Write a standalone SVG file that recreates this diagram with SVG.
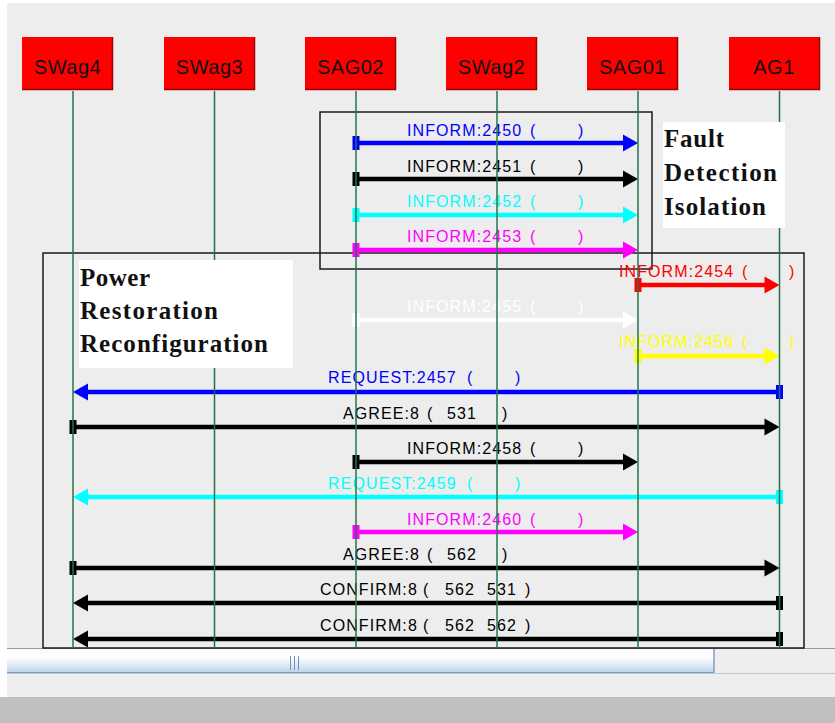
<svg xmlns="http://www.w3.org/2000/svg" width="835" height="723" viewBox="0 0 835 723">
  <style>
    .lane { fill: #ff0000; }
    .lane-edge { stroke: #9c0000; stroke-width: 1.5; fill: none; }
    .lane-txt { font-family: "Liberation Sans", Arial, sans-serif; font-size: 20px; letter-spacing: 0.5px; text-anchor: middle; fill: #111; }
    .life { stroke: #22744a; stroke-width: 1.5; }
    .frame { fill: none; stroke: #1a1a1a; stroke-width: 1.5; }
    .note { fill: #ffffff; }
    .note-txt { font-family: "Liberation Serif", "Times New Roman", serif; font-weight: bold; font-size: 25px; fill: #111; }
    .msg { fill: none; stroke-width: 4.5; }
    .m { font-family: "Liberation Sans", Arial, sans-serif; font-size: 16px; letter-spacing: 1.1px; }
    .c-blue { stroke: #0000ff; fill: #0000ff; }
    .c-black { stroke: #000000; fill: #000000; }
    .c-cyan { stroke: #00ffff; fill: #00ffff; }
    .c-mag { stroke: #ff00ff; fill: #ff00ff; }
    .c-red { stroke: #ff0000; fill: #ff0000; }
    .c-white { stroke: #ffffff; fill: #ffffff; }
    .c-yel { stroke: #ffff00; fill: #ffff00; }
    text.c-blue, text.c-black, text.c-cyan, text.c-mag, text.c-red, text.c-white, text.c-yel { stroke: none; }
  </style>
  <defs>
    <linearGradient id="thumb" x1="0" y1="0" x2="0" y2="1">
      <stop offset="0" stop-color="#f6f9fd"/>
      <stop offset="0.35" stop-color="#ffffff"/>
      <stop offset="1" stop-color="#bcd1e8"/>
    </linearGradient>
    <!-- arrowheads: tip sits 8px beyond the line end -->
    <marker id="h-blue" viewBox="-8 -9 17 18" refX="0" refY="0" markerWidth="17" markerHeight="18" orient="auto" markerUnits="userSpaceOnUse"><path d="M-7,-8.5 L8,0 L-7,8.5 z" fill="#0000ff"/></marker>
    <marker id="h-black" viewBox="-8 -9 17 18" refX="0" refY="0" markerWidth="17" markerHeight="18" orient="auto" markerUnits="userSpaceOnUse"><path d="M-7,-8.5 L8,0 L-7,8.5 z" fill="#000000"/></marker>
    <marker id="h-cyan" viewBox="-8 -9 17 18" refX="0" refY="0" markerWidth="17" markerHeight="18" orient="auto" markerUnits="userSpaceOnUse"><path d="M-7,-8.5 L8,0 L-7,8.5 z" fill="#00ffff"/></marker>
    <marker id="h-mag" viewBox="-8 -9 17 18" refX="0" refY="0" markerWidth="17" markerHeight="18" orient="auto" markerUnits="userSpaceOnUse"><path d="M-7,-8.5 L8,0 L-7,8.5 z" fill="#ff00ff"/></marker>
    <marker id="h-red" viewBox="-8 -9 17 18" refX="0" refY="0" markerWidth="17" markerHeight="18" orient="auto" markerUnits="userSpaceOnUse"><path d="M-7,-8.5 L8,0 L-7,8.5 z" fill="#ff0000"/></marker>
    <marker id="h-white" viewBox="-8 -9 17 18" refX="0" refY="0" markerWidth="17" markerHeight="18" orient="auto" markerUnits="userSpaceOnUse"><path d="M-7,-8.5 L8,0 L-7,8.5 z" fill="#ffffff"/></marker>
    <marker id="h-yel" viewBox="-8 -9 17 18" refX="0" refY="0" markerWidth="17" markerHeight="18" orient="auto" markerUnits="userSpaceOnUse"><path d="M-7,-8.5 L8,0 L-7,8.5 z" fill="#ffff00"/></marker>
    <!-- sender tabs -->
    <marker id="s-blue" viewBox="-4 -7 8 14" refX="0" refY="0" markerWidth="8" markerHeight="14" orient="auto" markerUnits="userSpaceOnUse"><rect x="-3.5" y="-7" width="7" height="14" fill="#0000ff"/></marker>
    <marker id="s-black" viewBox="-4 -7 8 14" refX="0" refY="0" markerWidth="8" markerHeight="14" orient="auto" markerUnits="userSpaceOnUse"><rect x="-3.5" y="-7" width="7" height="14" fill="#000000"/></marker>
    <marker id="s-cyan" viewBox="-4 -7 8 14" refX="0" refY="0" markerWidth="8" markerHeight="14" orient="auto" markerUnits="userSpaceOnUse"><rect x="-3.5" y="-7" width="7" height="14" fill="#00ffff"/></marker>
    <marker id="s-mag" viewBox="-4 -7 8 14" refX="0" refY="0" markerWidth="8" markerHeight="14" orient="auto" markerUnits="userSpaceOnUse"><rect x="-3.5" y="-7" width="7" height="14" fill="#ff00ff"/></marker>
    <marker id="s-red" viewBox="-4 -7 8 14" refX="0" refY="0" markerWidth="8" markerHeight="14" orient="auto" markerUnits="userSpaceOnUse"><rect x="-3.5" y="-7" width="7" height="14" fill="#ff0000"/></marker>
    <marker id="s-white" viewBox="-4 -7 8 14" refX="0" refY="0" markerWidth="8" markerHeight="14" orient="auto" markerUnits="userSpaceOnUse"><rect x="-3.5" y="-7" width="7" height="14" fill="#ffffff"/></marker>
    <marker id="s-yel" viewBox="-4 -7 8 14" refX="0" refY="0" markerWidth="8" markerHeight="14" orient="auto" markerUnits="userSpaceOnUse"><rect x="-3.5" y="-7" width="7" height="14" fill="#ffff00"/></marker>
  </defs>

  <!-- window background -->
  <rect x="0" y="0" width="835" height="723" fill="#ffffff"/>
  <rect x="7" y="3" width="828" height="645" fill="#ededed"/>

  <!-- horizontal scrollbar and status strip -->
  <g id="scrollbar">
    <rect x="7" y="648" width="828" height="26" fill="#eeeeee"/>
    <line x1="7" y1="648.5" x2="835" y2="648.5" stroke="#9a9a9a" stroke-width="1"/>
    <line x1="7" y1="673.5" x2="835" y2="673.5" stroke="#b9c7d8" stroke-width="1"/>
    <rect x="7" y="649" width="707" height="24" fill="url(#thumb)"/>
    <line x1="7" y1="672.5" x2="714" y2="672.5" stroke="#7f9cc0" stroke-width="1"/>
    <line x1="714" y1="649" x2="714" y2="673" stroke="#7f9cc0" stroke-width="1.5"/>
    <g stroke="#6f8fc4" stroke-width="1">
      <line x1="290.5" y1="656" x2="290.5" y2="670"/>
      <line x1="294.5" y1="656" x2="294.5" y2="670"/>
      <line x1="298.5" y1="656" x2="298.5" y2="670"/>
    </g>
    <rect x="7" y="674" width="828" height="23" fill="#eeeeee"/>
    <rect x="0" y="697" width="835" height="26" fill="#c0c0c0"/>
  </g>

  <!-- scenario frames -->
  <g id="frame-fdi">
    <rect class="frame" x="320" y="112" width="332" height="157"/>
  </g>
  <g id="frame-prr">
    <rect class="frame" x="43" y="253" width="761" height="395"/>
  </g>

  <!-- messages -->
  <g id="messages">
    <line class="msg c-blue" x1="356" y1="143" x2="630" y2="143" marker-start="url(#s-blue)" marker-end="url(#h-blue)"/>
    <text class="m c-blue" y="136"><tspan x="407">INFORM:2450</tspan><tspan x="530">(</tspan><tspan x="578">)</tspan></text>

    <line class="msg c-black" x1="356" y1="179" x2="630" y2="179" marker-start="url(#s-black)" marker-end="url(#h-black)"/>
    <text class="m c-black" y="172"><tspan x="407">INFORM:2451</tspan><tspan x="530">(</tspan><tspan x="578">)</tspan></text>

    <line class="msg c-cyan" x1="356" y1="215" x2="630" y2="215" marker-start="url(#s-cyan)" marker-end="url(#h-cyan)"/>
    <text class="m c-cyan" y="207"><tspan x="407">INFORM:2452</tspan><tspan x="530">(</tspan><tspan x="578">)</tspan></text>

    <line class="msg c-mag" x1="356" y1="250" x2="630" y2="250" marker-start="url(#s-mag)" marker-end="url(#h-mag)"/>
    <text class="m c-mag" y="242"><tspan x="407">INFORM:2453</tspan><tspan x="530">(</tspan><tspan x="578">)</tspan></text>

    <line class="msg c-red" x1="638" y1="285" x2="771.5" y2="285" marker-start="url(#s-red)" marker-end="url(#h-red)"/>
    <text class="m c-red" y="277"><tspan x="619">INFORM:2454</tspan><tspan x="742">(</tspan><tspan x="789">)</tspan></text>

    <line class="msg c-white" x1="356" y1="320" x2="630" y2="320" marker-start="url(#s-white)" marker-end="url(#h-white)"/>
    <text class="m c-white" y="312"><tspan x="407">INFORM:2455</tspan><tspan x="530">(</tspan><tspan x="578">)</tspan></text>

    <line class="msg c-yel" x1="638" y1="356" x2="771.5" y2="356" marker-start="url(#s-yel)" marker-end="url(#h-yel)"/>
    <text class="m c-yel" y="347"><tspan x="619">INFORM:2456</tspan><tspan x="742">(</tspan><tspan x="789">)</tspan></text>

    <line class="msg c-blue" x1="779.5" y1="392" x2="81" y2="392" marker-start="url(#s-blue)" marker-end="url(#h-blue)"/>
    <text class="m c-blue" y="383"><tspan x="328">REQUEST:2457</tspan><tspan x="467">(</tspan><tspan x="515">)</tspan></text>

    <line class="msg c-black" x1="73" y1="427" x2="771.5" y2="427" marker-start="url(#s-black)" marker-end="url(#h-black)"/>
    <text class="m c-black" y="419"><tspan x="343">AGREE:8</tspan><tspan x="427">(</tspan><tspan x="447">531</tspan><tspan x="502">)</tspan></text>

    <line class="msg c-black" x1="356" y1="462" x2="630" y2="462" marker-start="url(#s-black)" marker-end="url(#h-black)"/>
    <text class="m c-black" y="454"><tspan x="407">INFORM:2458</tspan><tspan x="530">(</tspan><tspan x="578">)</tspan></text>

    <line class="msg c-cyan" x1="779.5" y1="497" x2="81" y2="497" marker-start="url(#s-cyan)" marker-end="url(#h-cyan)"/>
    <text class="m c-cyan" y="489"><tspan x="328">REQUEST:2459</tspan><tspan x="467">(</tspan><tspan x="515">)</tspan></text>

    <line class="msg c-mag" x1="356" y1="532" x2="630" y2="532" marker-start="url(#s-mag)" marker-end="url(#h-mag)"/>
    <text class="m c-mag" y="525"><tspan x="407">INFORM:2460</tspan><tspan x="530">(</tspan><tspan x="578">)</tspan></text>

    <line class="msg c-black" x1="73" y1="568" x2="771.5" y2="568" marker-start="url(#s-black)" marker-end="url(#h-black)"/>
    <text class="m c-black" y="560"><tspan x="343">AGREE:8</tspan><tspan x="427">(</tspan><tspan x="447">562</tspan><tspan x="502">)</tspan></text>

    <line class="msg c-black" x1="779.5" y1="603" x2="81" y2="603" marker-start="url(#s-black)" marker-end="url(#h-black)"/>
    <text class="m c-black" y="595"><tspan x="320">CONFIRM:8</tspan><tspan x="423">(</tspan><tspan x="445">562</tspan><tspan x="487">531</tspan><tspan x="525">)</tspan></text>

    <line class="msg c-black" x1="779.5" y1="639" x2="81" y2="639" marker-start="url(#s-black)" marker-end="url(#h-black)"/>
    <text class="m c-black" y="631"><tspan x="320">CONFIRM:8</tspan><tspan x="423">(</tspan><tspan x="445">562</tspan><tspan x="487">562</tspan><tspan x="525">)</tspan></text>
  </g>

  <!-- agents: head box plus lifeline -->
  <g id="SWag4">
    <line class="life" x1="73" y1="91" x2="73" y2="648"/>
    <rect class="lane" x="22" y="37" width="91" height="53"/>
    <polyline class="lane-edge" points="22,89.5 112.5,89.5 112.5,37"/>
    <text class="lane-txt" x="67.5" y="74">SWag4</text>
  </g>
  <g id="SWag3">
    <line class="life" x1="214.5" y1="91" x2="214.5" y2="648"/>
    <rect class="lane" x="164" y="37" width="91" height="53"/>
    <polyline class="lane-edge" points="164,89.5 254.5,89.5 254.5,37"/>
    <text class="lane-txt" x="209.5" y="74">SWag3</text>
  </g>
  <g id="SAG02">
    <line class="life" x1="356" y1="91" x2="356" y2="648"/>
    <rect class="lane" x="305" y="37" width="91" height="53"/>
    <polyline class="lane-edge" points="305,89.5 395.5,89.5 395.5,37"/>
    <text class="lane-txt" x="350.5" y="74">SAG02</text>
  </g>
  <g id="SWag2">
    <line class="life" x1="497" y1="91" x2="497" y2="648"/>
    <rect class="lane" x="446" y="37" width="91" height="53"/>
    <polyline class="lane-edge" points="446,89.5 536.5,89.5 536.5,37"/>
    <text class="lane-txt" x="491.5" y="74">SWag2</text>
  </g>
  <g id="SAG01">
    <line class="life" x1="638" y1="91" x2="638" y2="648"/>
    <rect class="lane" x="587" y="37" width="91" height="53"/>
    <polyline class="lane-edge" points="587,89.5 677.5,89.5 677.5,37"/>
    <text class="lane-txt" x="632.5" y="74">SAG01</text>
  </g>
  <g id="AG1">
    <line class="life" x1="779.5" y1="91" x2="779.5" y2="648"/>
    <rect class="lane" x="729" y="37" width="91" height="53"/>
    <polyline class="lane-edge" points="729,89.5 819.5,89.5 819.5,37"/>
    <text class="lane-txt" x="774" y="74">AG1</text>
  </g>

  <!-- scenario captions -->
  <g id="note-fdi">
    <rect class="note" x="663" y="122" width="122" height="106"/>
    <text class="note-txt" x="664" y="147" textLength="60" lengthAdjust="spacing">Fault</text>
    <text class="note-txt" x="664" y="181" textLength="113" lengthAdjust="spacing">Detection</text>
    <text class="note-txt" x="664" y="215" textLength="102" lengthAdjust="spacing">Isolation</text>
  </g>
  <g id="note-prr">
    <rect class="note" x="79" y="260" width="214" height="108"/>
    <text class="note-txt" x="80" y="286" textLength="70" lengthAdjust="spacing">Power</text>
    <text class="note-txt" x="80" y="319" textLength="138" lengthAdjust="spacing">Restoration</text>
    <text class="note-txt" x="80" y="352" textLength="188" lengthAdjust="spacing">Reconfiguration</text>
  </g>
</svg>
